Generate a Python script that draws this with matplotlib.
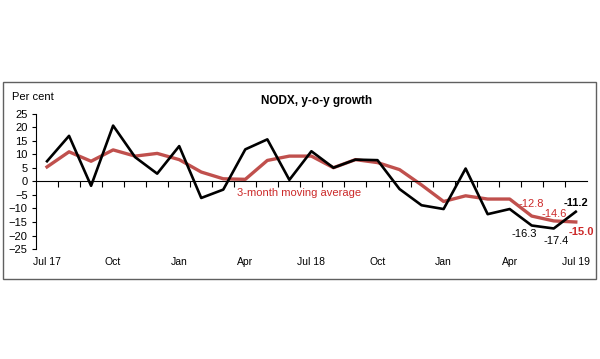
import matplotlib
matplotlib.use("Agg")
import matplotlib.pyplot as plt
from matplotlib.patches import Rectangle

plt.rcParams['font.family'] = ['Liberation Sans', 'DejaVu Sans']

# monthly NODX y-o-y growth, Jul 17 .. Jul 19
nodx = [7.5, 16.9, -1.6, 20.7, 9.0, 2.9, 13.1, -6.1, -3.0, 11.9, 15.6, 0.6,
        11.2, 5.1, 8.1, 7.9, -2.8, -8.8, -10.2, 4.8, -12.1, -10.2, -16.3, -17.4, -11.2]
moving_avg = [5.4, 11.0, 7.5, 11.7, 9.4, 10.4, 8.1, 3.5, 1.0, 0.8, 7.8, 9.4,
              9.4, 5.1, 8.1, 7.0, 4.4, -1.3, -7.4, -5.3, -6.5, -6.5, -12.8, -14.6, -15.0]
tick_labels = ['Jul 17', 'Oct', 'Jan', 'Apr', 'Jul 18', 'Oct', 'Jan', 'Apr', 'Jul 19']

RED_LINE = '#c0504d'
RED_TEXT = '#cc2a2a'

fig = plt.figure(figsize=(6, 3.59), dpi=100)
fig.patches.append(Rectangle((0.005, 0.2228), 0.988, 0.5487, transform=fig.transFigure,
                             fill=False, edgecolor='#606060', linewidth=1.0))

ax = fig.add_axes([0.06, 0.3064, 0.918, 0.3761])
x = list(range(len(nodx)))
ax.plot(x, moving_avg, color=RED_LINE, linewidth=2.4, zorder=2)
ax.plot(x, nodx, color='black', linewidth=1.9, zorder=3)

ax.set_xlim(-0.5, 24.5)
ax.set_ylim(-25, 25)
ax.set_yticks(range(-25, 26, 5))
ax.tick_params(axis='y', direction='out', length=3, width=0.8, pad=3, labelsize=8)

for s in ['top', 'right']:
    ax.spines[s].set_visible(False)
ax.spines['left'].set_linewidth(0.8)
ax.spines['bottom'].set_position(('data', 0))
ax.spines['bottom'].set_linewidth(0.8)
ax.set_xticks([i + 0.5 for i in range(24)])
ax.tick_params(axis='x', direction='out', length=4, width=0.8, labelbottom=False)

sec = ax.secondary_xaxis(0)
sec.set_xticks(x[::3])
sec.set_xticklabels(tick_labels)
sec.spines['bottom'].set_visible(False)
sec.tick_params(length=0, pad=6, labelsize=7.5)

ax.text(11.46, -4.1, '3-month moving average', color=RED_TEXT, fontsize=8,
        ha='center', va='center')

fig.text(12 / 600, 1 - 97 / 359, 'Per cent', fontsize=8, ha='left', va='center')
fig.text(317 / 600, 1 - 101 / 359, 'NODX, y-o-y growth', fontsize=8.5,
         fontweight='bold', ha='center', va='center')


def note(i, series, dx, dy, color, bold=False):
    ax.annotate(f'{series[i]:.1f}', xy=(i, series[i]), xytext=(dx, dy),
                textcoords='offset points', ha='center', va='center',
                fontsize=8, color=color, fontweight='bold' if bold else 'normal')


# labels on the last three months
note(22, nodx, -5.5, -6, 'black')
note(23, nodx, 1.5, -9, 'black')
note(24, nodx, 0, 6, 'black', bold=True)
note(22, moving_avg, 0, 9, RED_TEXT)
note(23, moving_avg, 0, 5, RED_TEXT)
note(24, moving_avg, 4, -7, RED_TEXT, bold=True)

fig.savefig('out.png', dpi=100)
